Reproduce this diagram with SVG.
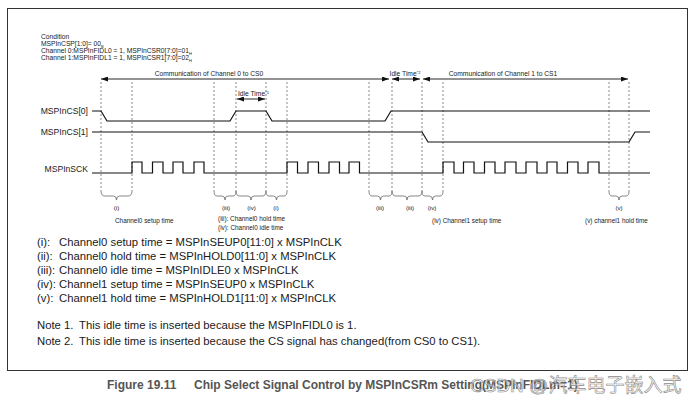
<svg xmlns="http://www.w3.org/2000/svg" width="692" height="404" viewBox="0 0 692 404">
<defs>
<marker id="ah" viewBox="0 0 7 5" refX="7" refY="2.5" markerWidth="7" markerHeight="5" orient="auto-start-reverse" markerUnits="userSpaceOnUse"><path d="M0,0 L7,2.5 L0,5 z" fill="#111"/></marker>
</defs>
<style>
text{font-family:"Liberation Sans",Arial,sans-serif;fill:#1a1a1a}
.c{font-size:6.7px}
.sig{font-size:8.6px;text-anchor:end}
.b{font-size:6.2px;text-anchor:middle}
.bl{font-size:6.4px}
.l{font-size:11.3px}
.cap{font-size:12px;font-weight:bold;fill:#555}
.w{fill:none;stroke:#111;stroke-width:1.2}
.d{fill:none;stroke:#555;stroke-width:0.7;stroke-dasharray:2,2}
.br{fill:none;stroke:#555;stroke-width:0.7}
.ar{fill:none;stroke:#111;stroke-width:0.9;marker-start:url(#ah);marker-end:url(#ah)}
</style>
<rect x="7.5" y="8.5" width="680" height="362" fill="#fff" stroke="#333" stroke-width="1"/>
<g id="condition">
<text class="c" x="41" y="39">Condition</text>
<text class="c" x="41" y="46">MSPInCSP[1:0]= 00<tspan font-size="4" dy="1.5">B</tspan></text>
<text class="c" x="41" y="53">Channel 0:MSPInFIDL0 = 1, MSPInCSR0[7:0]=01<tspan font-size="4" dy="1.5">H</tspan></text>
<text class="c" x="41" y="60">Channel 1:MSPInFIDL1 = 1, MSPInCSR1[7:0]=02<tspan font-size="4" dy="1.5">H</tspan></text>
</g>
<g id="labels-top">
<text class="c" x="209" y="76" text-anchor="middle">Communication of Channel 0 to CS0</text>
<text class="c" x="405" y="76" text-anchor="middle">Idle Time<tspan font-size="4" dy="-2.5">*2</tspan></text>
<text class="c" x="503" y="76" text-anchor="middle">Communication of Channel 1 to CS1</text>
<text class="c" x="238" y="96">Idle Time<tspan font-size="4" dy="-2.5">*1</tspan></text>
</g>
<g id="signal-names">
<text class="sig" x="88" y="114">MSPInCS[0]</text>
<text class="sig" x="88" y="135">MSPInCS[1]</text>
<text class="sig" x="88" y="172">MSPInSCK</text>
</g>
<g id="connectors">
<line class="ar" x1="101" y1="79" x2="389" y2="79"/>
<line class="ar" x1="392" y1="79" x2="420" y2="79"/>
<line class="ar" x1="423" y1="79" x2="628" y2="79"/>
<line class="ar" x1="237" y1="99" x2="265" y2="99"/>
<g id="dashes">
<line class="d" x1="101" y1="82" x2="101" y2="191"/>
<line class="d" x1="132" y1="82" x2="132" y2="191"/>
<line class="d" x1="214" y1="82" x2="214" y2="191"/>
<line class="d" x1="236" y1="82" x2="236" y2="191"/>
<line class="d" x1="266" y1="82" x2="266" y2="191"/>
<line class="d" x1="287" y1="82" x2="287" y2="191"/>
<line class="d" x1="369" y1="82" x2="369" y2="191"/>
<line class="d" x1="392" y1="82" x2="392" y2="191"/>
<line class="d" x1="422" y1="82" x2="422" y2="191"/>
<line class="d" x1="443" y1="82" x2="443" y2="191"/>
<line class="d" x1="609" y1="82" x2="609" y2="191"/>
<line class="d" x1="629" y1="82" x2="629" y2="191"/>
</g>
</g>
<g id="waveforms">
<path id="cs0" class="w" d="M92,111 H101 L107,121 H230 L236,111 H266 L272,121 H385 L391,111 H650"/>
<path id="cs1" class="w" d="M92,132 H422 L428,142 H629 L635,132 H650"/>
<path id="sck" class="w" d="M92,173 H132 V162 H142 V173 H152.5 V162 H163 V173 H173 V162 H183 V173 H194 V162 H204 V173 H287 V162 H297.5 V173 H308 V162 H318.5 V173 H329 V162 H339.5 V173 H349 V162 H359.5 V173 H443 V162 H454 V173 H463.5 V162 H474 V173 H484.5 V162 H495 V173 H505 V162 H516 V173 H526 V162 H537 V173 H547 V162 H557 V173 H567.5 V162 H578 V173 H588 V162 H599 V173 H650"/>
</g>
<g id="braces">
<path class="br" d="M101,191 Q101,196 105,196 H113.5 Q116.5,196 116.5,200 Q116.5,196 119.5,196 H128 Q132,196 132,191"/>
<path class="br" d="M214,191 Q214,196 217,196 H222 Q225,196 225,200 Q225,196 228,196 H233 Q236,196 236,191"/>
<path class="br" d="M236,191 Q236,196 240,196 H248 Q251,196 251,200 Q251,196 254,196 H262 Q266,196 266,191"/>
<path class="br" d="M266,191 Q266,196 269,196 H273.5 Q276.5,196 276.5,200 Q276.5,196 279.5,196 H284 Q287,196 287,191"/>
<path class="br" d="M369,191 Q369,196 372,196 H377.5 Q380.5,196 380.5,200 Q380.5,196 383.5,196 H389 Q392,196 392,191"/>
<path class="br" d="M392,191 Q392,196 396,196 H404 Q407,196 407,200 Q407,196 410,196 H418 Q422,196 422,191"/>
<path class="br" d="M422,191 Q422,196 425,196 H429.5 Q432.5,196 432.5,200 Q432.5,196 435.5,196 H440 Q443,196 443,191"/>
<path class="br" d="M609,191 Q609,196 612,196 H616 Q619,196 619,200 Q619,196 622,196 H626 Q629,196 629,191"/>
</g>
<g id="brace-labels">
<text class="b" x="116.5" y="210">(i)</text>
<text class="b" x="226" y="210">(iii)</text>
<text class="b" x="251.5" y="210">(iv)</text>
<text class="b" x="276" y="210">(i)</text>
<text class="b" x="380" y="210">(iii)</text>
<text class="b" x="410" y="210">(iii)</text>
<text class="b" x="432" y="210">(iv)</text>
<text class="b" x="619" y="210">(v)</text>
<text class="bl" x="115" y="223">Channel0 setup time</text>
<text class="bl" x="218" y="221">(iii): Channel0 hold time</text>
<text class="bl" x="218" y="230">(iv): Channel0 idle time</text>
<text class="bl" x="432" y="223">(iv) Channel1 setup time</text>
<text class="bl" x="585" y="223">(v) channel1 hold time</text>
</g>
<g id="legend">
<text class="l" x="37" y="246">(i):</text><text class="l" x="59" y="246">Channel0 setup time = MSPInSEUP0[11:0] x MSPInCLK</text>
<text class="l" x="37" y="260">(ii):</text><text class="l" x="59" y="260">Channel0 hold time = MSPInHOLD0[11:0] x MSPInCLK</text>
<text class="l" x="37" y="274">(iii):</text><text class="l" x="59" y="274">Channel0 idle time = MSPInIDLE0 x MSPInCLK</text>
<text class="l" x="37" y="288">(iv):</text><text class="l" x="59" y="288">Channel1 setup time = MSPInSEUP0 x MSPInCLK</text>
<text class="l" x="37" y="302">(v):</text><text class="l" x="59" y="302">Channel1 hold time = MSPInHOLD1[11:0] x MSPInCLK</text>
<text class="l" x="37" y="329">Note 1.</text><text class="l" x="79" y="329">This idle time is inserted because the MSPInFIDL0 is 1.</text>
<text class="l" x="37" y="345">Note 2.</text><text class="l" x="79" y="345">This idle time is inserted because the CS signal has changed(from CS0 to CS1).</text>
</g>
<g id="caption">
<text class="cap" x="107" y="389">Figure 19.11</text>
<text class="cap" x="194" y="389">Chip Select Signal Control by MSPInCSRm Setting(MSPInFIDLm=1)</text>
<text x="470" y="392" font-size="19" style="font-family:'Liberation Sans','Noto Sans CJK SC',sans-serif;fill:#fff;fill-opacity:0.5;stroke:#8a8a8a;stroke-width:0.6">CSDN @汽车电子嵌入式</text>
</g>
</svg>
